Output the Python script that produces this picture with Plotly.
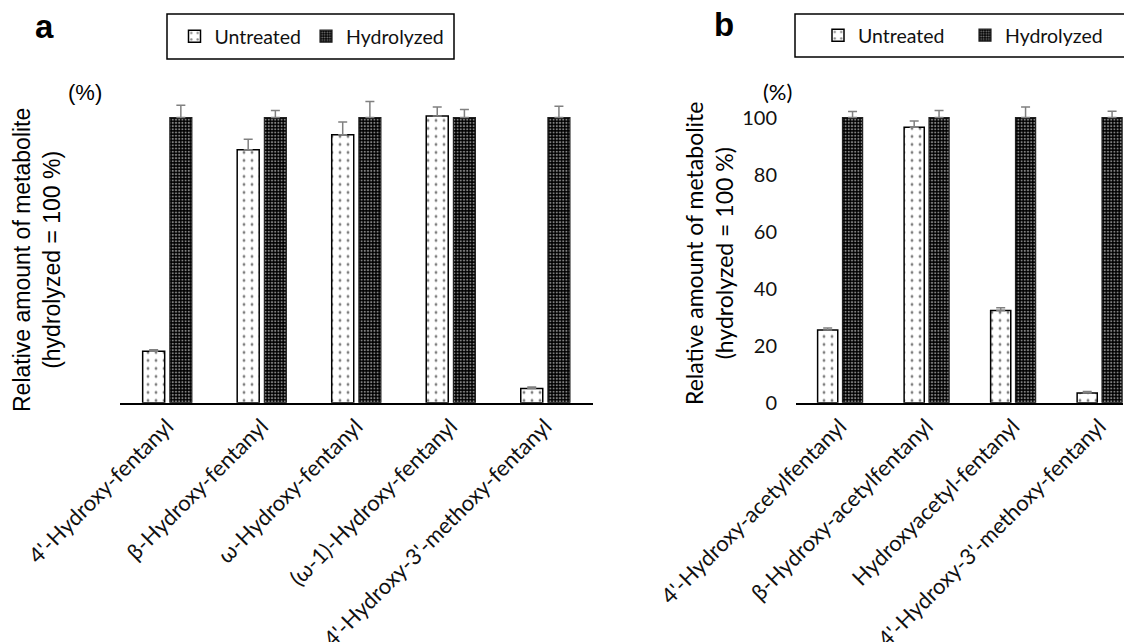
import plotly.graph_objects as go

# ---------------- data ----------------
cats_a = ["4'-Hydroxy-fentanyl", "β-Hydroxy-fentanyl", "ω-Hydroxy-fentanyl",
          "(ω-1)-Hydroxy-fentanyl", "4'-Hydroxy-3'-methoxy-fentanyl"]
untreated_a = [18.0, 88.7, 94.0, 100.5, 5.0]
untreated_a_err = [0.6, 3.7, 4.4, 3.2, 0.5]
hydrolyzed_a = [100, 100, 100, 100, 100]
hydrolyzed_a_err = [4.3, 2.5, 5.6, 2.8, 4.0]

cats_b = ["4'-Hydroxy-acetylfentanyl", "β-Hydroxy-acetylfentanyl",
          "Hydroxyacetyl-fentanyl", "4'-Hydroxy-3'-methoxy-fentanyl"]
untreated_b = [25.5, 96.6, 32.3, 3.4]
untreated_b_err = [0.7, 2.2, 1.0, 0.5]
hydrolyzed_b = [100, 100, 100, 100]
hydrolyzed_b_err = [2.1, 2.5, 3.7, 2.2]

y_ticks_b = [0, 20, 40, 60, 80, 100]

# ---------------- styling ----------------
W, H = 1132, 642
OFF = 8  # page body margin
CAL = "Lato, 'Open Sans', sans-serif"
ARIAL = "'Liberation Sans', Arial, sans-serif"

def px_x(p):
    return (p - OFF) / W

def px_y(p):
    return 1 - (p - OFF) / H

unt_pattern = dict(shape=".", bgcolor="white", fgcolor="black", size=8, solidity=0.1)
hyd_pattern = dict(shape=".", bgcolor="black", fgcolor="white", size=3.2, solidity=0.35)
err_style = dict(type="data", symmetric=False, color="#808080", thickness=1.5, width=4.5)

fig = go.Figure()

def add_pair(cats, unt, unt_err, hyd, hyd_err, xa, ya, legend):
    fig.add_trace(go.Bar(
        x=cats, y=unt, name="Untreated", xaxis=xa, yaxis=ya, legend=legend,
        marker=dict(color="white", pattern=unt_pattern, line=dict(color="black", width=1.5)),
        error_y=dict(array=unt_err, arrayminus=[0] * len(unt_err), **err_style),
    ))
    fig.add_trace(go.Bar(
        x=cats, y=hyd, name="Hydrolyzed", xaxis=xa, yaxis=ya, legend=legend,
        marker=dict(color="black", pattern=hyd_pattern, line=dict(color="#222222", width=1.2)),
        error_y=dict(array=hyd_err, arrayminus=[0] * len(hyd_err), **err_style),
    ))

add_pair(cats_a, untreated_a, untreated_a_err, hydrolyzed_a, hydrolyzed_a_err, "x", "y", "legend")
add_pair(cats_b, untreated_b, untreated_b_err, hydrolyzed_b, hydrolyzed_b_err, "x2", "y2", "legend2")

ydom = [px_y(402.7), px_y(60.5)]
yrange = [0, 120]

xaxis_common = dict(
    type="category", showline=True, linecolor="black", linewidth=2.2,
    ticks="", tickangle=-45, showgrid=False, zeroline=False, automargin=False,
    tickfont=dict(family=CAL, size=22, color="#111111"),
)

legend_common = dict(
    orientation="h", xanchor="center", yanchor="middle",
    bgcolor="rgba(0,0,0,0)", borderwidth=0,
    font=dict(family=CAL, size=19.5, color="#111111"),
    itemwidth=30, tracegroupgap=0,
)

def ann(text, x, y, font, **kw):
    return dict(text=text, x=px_x(x), y=px_y(y), xref="paper", yref="paper",
                xanchor="center", yanchor="middle", showarrow=False, font=font, **kw)

fig.update_layout(
    width=W, height=H,
    margin=dict(l=0, r=0, t=0, b=0, autoexpand=False),
    paper_bgcolor="white", plot_bgcolor="white",
    barmode="group", bargap=0.425, bargroupgap=0.19,
    showlegend=True,
    xaxis=dict(domain=[px_x(120), px_x(592.6)], range=[-0.5, 4.5], anchor="y", **xaxis_common),
    yaxis=dict(domain=ydom, range=yrange, showticklabels=False, showline=False,
               showgrid=False, zeroline=False, ticks="", anchor="x", automargin=False),
    xaxis2=dict(domain=[px_x(796), px_x(1123)], range=[-0.51, 3.27], anchor="y2", **xaxis_common),
    yaxis2=dict(domain=ydom, range=yrange, tickvals=y_ticks_b, showline=False,
                showgrid=False, zeroline=False, ticks="", anchor="x2", automargin=False,
                ticklabelstandoff=18,
                tickfont=dict(family=CAL, size=20, color="#111111")),
    legend=dict(x=px_x(312), y=px_y(36.5), **legend_common),
    legend2=dict(x=px_x(965), y=px_y(35.5), entrywidth=102, **legend_common),
    shapes=[
        dict(type="rect", xref="paper", yref="paper", x0=px_x(167), x1=px_x(454),
             y0=px_y(59), y1=px_y(14), line=dict(color="black", width=1.5)),
        dict(type="rect", xref="paper", yref="paper", x0=px_x(795), x1=px_x(1130),
             y0=px_y(57), y1=px_y(14), line=dict(color="black", width=1.5)),
    ],
    annotations=[
        ann("<b>a</b>", 44.5, 26, dict(family=ARIAL, size=33, color="black")),
        ann("<b>b</b>", 724, 24, dict(family=ARIAL, size=33, color="black")),
        ann("(%)", 85, 92.5, dict(family=ARIAL, size=22, color="black")),
        ann("(%)", 777.5, 91.5, dict(family=CAL, size=22, color="black")),
        ann("Relative amount of metabolite<br>(hydrolyzed = 100 %)", 36.5, 260.5,
            dict(family=ARIAL, size=23, color="black"), textangle=-90),
        ann("Relative amount of metabolite<br>(hydrolyzed = 100 %)", 709, 254,
            dict(family=CAL, size=23, color="black"), textangle=-90),
    ],
)

fig.write_html("out.html")
